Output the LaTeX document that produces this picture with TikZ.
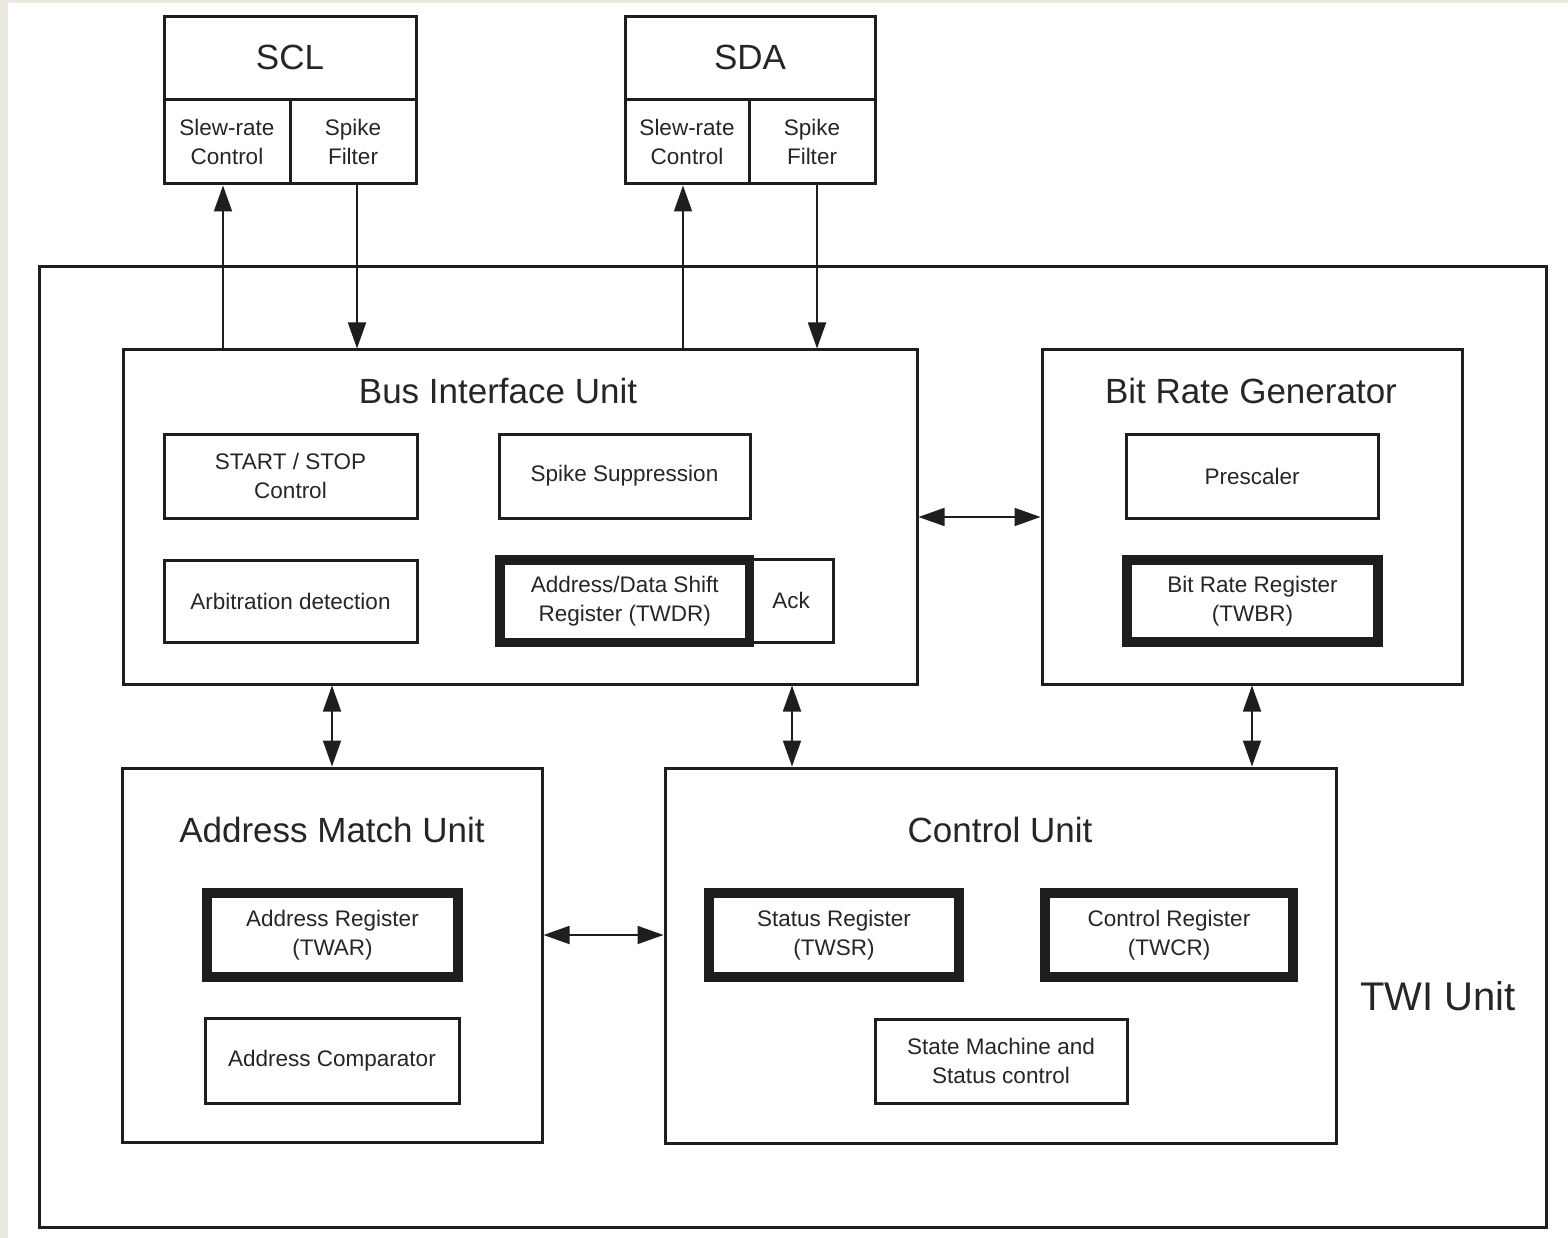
\documentclass[tikz,border=0pt]{standalone}
\usepackage{fontspec}
\setmainfont{Liberation Sans}
\usetikzlibrary{arrows.meta}
\definecolor{beige}{HTML}{ECEAE0}
\definecolor{linec}{HTML}{1E1E1E}
\definecolor{txtc}{HTML}{262626}
\tikzset{
  box/.style={draw=linec, line width=3pt, inner sep=0pt, text=txtc,
    align=center, font=\fontsize{22.5}{28.5}\selectfont},
  regbox/.style={box, line width=9.5pt},
  title/.style={inner sep=0pt, text=txtc, anchor=base, font=\fontsize{35}{40}\selectfont},
  arr/.style={draw=linec, line width=1.8pt, -{Triangle[length=26pt,width=18pt]}},
  darr/.style={draw=linec, line width=1.8pt, {Triangle[length=26pt,width=18pt]}-{Triangle[length=26pt,width=18pt]}}
}
\begin{document}
\begin{tikzpicture}[x=1pt,y=-1pt]
\useasboundingbox (0,0) rectangle (1568,1238);
\fill[beige] (0,0) rectangle (1568,1238);
\fill[white] (8,3) rectangle (1568,1238);

% TWI outer
\node[box, minimum width=1507, minimum height=960] (twi) at (792.5,747) {};
\node[title, font=\fontsize{40}{44}\selectfont] (twit) at (1438,1010) {TWI Unit};

% SCL
\node[box, minimum width=252, minimum height=83] (scl) at (290,58.5) {};
\node[title] (sclt) at (290,70) {SCL};
\node[box, minimum width=126, minimum height=84] (sclslew) at (227,142) {Slew-rate\\Control};
\node[box, minimum width=126, minimum height=84] (sclspike) at (353,142) {Spike\\Filter};

% SDA
\node[box, minimum width=250, minimum height=83] (sda) at (750,58.5) {};
\node[title] (sdat) at (750,70) {SDA};
\node[box, minimum width=124, minimum height=84] (sdaslew) at (687,142) {Slew-rate\\Control};
\node[box, minimum width=126, minimum height=84] (sdaspike) at (812,142) {Spike\\Filter};

% Bus Interface Unit
\node[box, minimum width=794, minimum height=334] (biu) at (520,517) {};
\node[title] (biut) at (498,403) {Bus Interface Unit};
\node[box, minimum width=253, minimum height=84] (ssc) at (290.5,476) {START / STOP\\Control};
\node[box, minimum width=251, minimum height=84] (spsup) at (624.5,476) {Spike Suppression};
\node[box, minimum width=253, minimum height=82] (arb) at (290.5,601) {Arbitration detection};
\node[box, minimum width=84, minimum height=83] (ack) at (791,600.5) {Ack};
\node[regbox, minimum width=249.5, minimum height=82.5] (twdr) at (624.75,601.25) {Address/Data Shift\\Register (TWDR)};

% Bit Rate Generator
\node[box, minimum width=420, minimum height=334] (brg) at (1252,517) {};
\node[title] (brgt) at (1251,403) {Bit Rate Generator};
\node[box, minimum width=252, minimum height=84] (presc) at (1252,476) {Prescaler};
\node[regbox, minimum width=251, minimum height=82] (twbr) at (1252.5,601) {Bit Rate Register\\(TWBR)};

% Address Match Unit
\node[box, minimum width=420, minimum height=374] (amu) at (332,955) {};
\node[title] (amut) at (332,842) {Address Match Unit};
\node[regbox, minimum width=251, minimum height=84] (twar) at (332.5,935) {Address Register\\(TWAR)};
\node[box, minimum width=254, minimum height=85] (acomp) at (332,1060.5) {Address Comparator};

% Control Unit
\node[box, minimum width=671, minimum height=375] (cu) at (1000.5,955.5) {};
\node[title] (cut) at (1000,842) {Control Unit};
\node[regbox, minimum width=250, minimum height=84] (twsr) at (834,935) {Status Register\\(TWSR)};
\node[regbox, minimum width=248, minimum height=84] (twcr) at (1169,935) {Control Register\\(TWCR)};
\node[box, minimum width=252, minimum height=84] (smsc) at (1001,1061) {State Machine and\\Status control};

% connector end points
\coordinate (p1) at ([xshift=-4pt]sclslew.south);
\coordinate (p2) at ([xshift=4pt]sclspike.south);
\coordinate (p3) at ([xshift=-4pt]sdaslew.south);
\coordinate (p4) at ([xshift=5pt]sdaspike.south);
\coordinate (p5) at ([xshift=1pt]ack.south);

% connectors
\draw[arr] (biu.north -| p1) -- (p1);
\draw[arr] (p2) -- (biu.north -| p2);
\draw[arr] (biu.north -| p3) -- (p3);
\draw[arr] (p4) -- (biu.north -| p4);
\draw[darr] (biu.east) -- (brg.west);
\draw[darr] (biu.south -| amu.north) -- (amu.north);
\draw[darr] (biu.south -| p5) -- (cu.north -| p5);
\draw[darr] (brg.south) -- (cu.north -| brg.south);
\draw[darr] (amu.east |- twar.center) -- (cu.west |- twar.center);
\end{tikzpicture}
\end{document}
